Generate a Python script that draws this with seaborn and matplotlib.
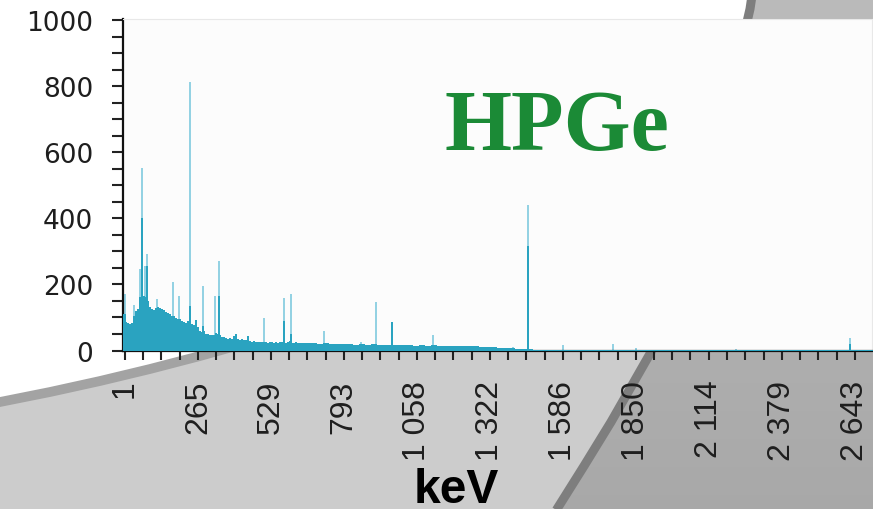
import numpy as np
import pandas as pd
import matplotlib
matplotlib.use("Agg")
import matplotlib.pyplot as plt
from matplotlib.patches import Polygon
from matplotlib.colors import LinearSegmentedColormap
import seaborn as sns

# ---------------------------------------------------------------------------
# Gamma spectrum (HPGe detector), counts per channel group
# ---------------------------------------------------------------------------
# Continuum, fine groups of 7.24 keV starting at -6.24 keV
continuum_low = [
    110, 86, 82, 80, 84, 104, 120, 125, 161, 162,
    165, 160, 150, 132, 125, 122, 128, 131, 130, 126,
    124, 118, 114, 112, 106, 104, 99, 96, 94, 90,
    86, 82, 88, 90, 80, 76, 92, 70, 58, 56,
    60, 50, 49, 47, 46, 48, 52, 50, 46, 40,
    41, 38, 36, 37, 34, 45, 50, 36, 33, 35,
    32, 33, 44, 30, 27, 28, 26, 27, 25, 26,
    27, 25, 24, 26, 25, 23, 26, 24, 25, 27,
    30, 24, 25, 28, 24, 23, 25, 22,
]
# Continuum, coarse groups of 21.72 keV starting at 630.9 keV
continuum_high = [
    23, 22, 24, 21, 23, 20, 21, 19, 20, 18,
    20, 18, 19, 17, 18, 17, 18, 16, 17, 15,
    16, 15, 16, 14, 15, 14, 15, 13, 14, 13,
    12, 12, 10, 9, 8, 7, 6, 6, 6, 3,
    3, 3, 3, 2, 3, 2, 2, 2, 2, 2,
    2, 2, 2, 2, 2, 2, 2, 2, 2, 1,
    2, 1, 1, 1, 1, 1, 1, 1, 1, 1,
    1, 1, 1, 1, 1, 1, 1, 1, 1, 1,
    1, 1, 1, 1, 1, 1, 1, 1, 1, 1,
    1, 1, 1, 1, 1, 1,
]

# Lines: energy (keV), height of the peak channel, height of the line core
peak_kev = [0, 34, 55, 64, 73, 81, 117, 175, 196, 235,
            283, 327, 341, 504, 577, 602, 721, 855, 908, 966,
            1116, 1406, 1460, 1587, 1768, 1851, 2213, 2625]
peak_top = [171, 137, 246, 554, 255, 291, 155, 207, 165, 814,
            195, 165, 270, 99, 158, 171, 60, 27, 147, 87,
            46, 12, 442, 18, 21, 8, 6, 39]
peak_core = [110, 0, 161, 403, 161, 255, 0, 0, 0, 134,
             74, 0, 165, 0, 90, 50, 0, 0, 0, 87,
             0, 0, 316, 0, 0, 0, 0, 21]

x_tick_values = [1, 265, 529, 793, 1058, 1322, 1586, 1850, 2114, 2379, 2643]
x_tick_labels = ["1", "265", "529", "793", "1 058", "1 322",
                 "1 586", "1 850", "2 114", "2 379", "2 643"]
y_tick_values = [0, 200, 400, 600, 800, 1000]

TEAL = "#2aa3c0"
TEAL_LIGHT = "#94d2e3"

# ---------------------------------------------------------------------------
sns.set_style("ticks")
plt.rcParams["font.family"] = ["DejaVu Sans"]

W, H = 873, 510
fig = plt.figure(figsize=(W / 100, H / 100), dpi=100)
fig.patch.set_facecolor("white")

# Decorative background swooshes (pixel coordinates)
bg = fig.add_axes([0, 0, 1, 1], zorder=-10)
bg.set_xlim(0, W)
bg.set_ylim(H, 0)
bg.axis("off")

left_curve = [(-5, 404), (0, 403), (50, 393), (100, 382), (150, 370), (200, 357),
              (250, 343), (300, 328), (400, 296), (600, 230), (880, 140)]
bg.add_patch(Polygon(left_curve + [(880, 525), (-5, 525)], closed=True,
                     facecolor="#cccccc", edgecolor="none", zorder=1))
lx, ly = zip(*left_curve)
bg.plot(lx, ly, color="#a3a3a3", lw=7, solid_capstyle="butt", zorder=2)

right_curve = [(548, 525), (557, 510), (584, 467), (611, 423), (631, 388),
               (651, 353), (690, 245), (720, 140), (750, 10), (753, -10)]
right_poly = Polygon(right_curve + [(885, -10), (885, 525)], closed=True,
                     facecolor="none", edgecolor="none")
bg.add_patch(right_poly)
grad = np.linspace(0, 1, 256).reshape(-1, 1)
cmap = LinearSegmentedColormap.from_list("bgfade", ["#bbbbbb", "#a8a8a8"])
im = bg.imshow(grad, cmap=cmap, extent=[540, 885, 525, -10], aspect="auto",
               zorder=3, interpolation="bilinear")
im.set_clip_path(right_poly)
rx, ry = zip(*right_curve)
bg.plot(rx, ry, color="#7e7e7e", lw=6.5, solid_capstyle="butt", zorder=4)
bg.set_xlim(0, W)
bg.set_ylim(H, 0)

# Main spectrum axes
ax = fig.add_axes([123 / W, 1 - 351.5 / H, 749 / W, 331.5 / H])
ax.set_facecolor("#fcfcfc")

low_w = 7.24
high_w = 21.72
low_edges = -6.24 + low_w * np.arange(len(continuum_low) + 1)
high_edges = low_edges[-1] + high_w * np.arange(len(continuum_high) + 1)
edges = np.concatenate([low_edges, high_edges[1:]])
continuum = pd.DataFrame({
    "kev": 0.5 * (edges[:-1] + edges[1:]),
    "counts": np.array(continuum_low + continuum_high, dtype=float),
})

lines = pd.DataFrame({"kev": peak_kev, "top": peak_top, "core": peak_core})
pw = 7.5
pk = lines["kev"].to_numpy(dtype=float)
pk_edges = np.sort(np.concatenate([pk - pw / 2, pk + pw / 2])).tolist()

# Light tips of the lines
sns.histplot(data=lines, x="kev", weights="top", bins=pk_edges, element="bars",
             fill=True, color=TEAL_LIGHT, alpha=1, linewidth=0, ax=ax, zorder=2)
# Continuum
sns.histplot(data=continuum, x="kev", weights="counts", bins=edges.tolist(),
             element="step", fill=True, color=TEAL, alpha=1, linewidth=0,
             ax=ax, zorder=3)
# Dense cores of the lines
sns.histplot(data=lines, x="kev", weights="core", bins=pk_edges, element="bars",
             fill=True, color=TEAL, alpha=1, linewidth=0, ax=ax, zorder=4)

ax.set_xlim(-6.24, 2705)
ax.set_ylim(0, 1004.5)
ax.set_ylabel("")

ax.set_xticks(x_tick_values)
ax.set_xticklabels(x_tick_labels, rotation=90,
                   fontfamily=["Liberation Sans", "DejaVu Sans"], fontsize=23,
                   color="#1e1e1e")
minor_x = []
for a, b in zip(x_tick_values[:-1], x_tick_values[1:]):
    minor_x.extend(np.linspace(a, b, 5)[1:4])
ax.set_xticks(minor_x, minor=True)

ax.set_yticks(y_tick_values)
ax.set_yticklabels([str(v) for v in y_tick_values], fontsize=19,
                   fontfamily=["DejaVu Sans"], color="#1e1e1e")
ax.set_yticks(np.arange(0, 1001, 50), minor=True)

ax.tick_params(axis="x", which="both", length=6.5, width=1.5, color="#222222",
               pad=14.5, direction="out")
ax.tick_params(axis="y", which="both", length=8, width=1.5, color="#222222",
               pad=13.5, direction="out")

for side in ("left", "bottom"):
    ax.spines[side].set_color("#111111")
    ax.spines[side].set_linewidth(1.6)
for side in ("top", "right"):
    ax.spines[side].set_color("#e8e8e8")
    ax.spines[side].set_linewidth(0.8)

ax.set_xlabel("keV", fontfamily=["Liberation Sans", "DejaVu Sans"],
              fontweight="bold", fontsize=34.5, color="black")
ax.xaxis.label.set_va("baseline")
ax.xaxis.set_label_coords((456 - 123) / 749, -(503 - 351.5) / 331.5)

ax.text((557 - 123) / 749, (351.5 - 150) / 331.5, "HPGe", transform=ax.transAxes,
        ha="center", va="baseline", fontfamily=["Liberation Serif", "DejaVu Serif"],
        fontweight="bold", fontsize=62, color="#1b8a36", zorder=10)

fig.savefig("out.png", dpi=100, facecolor="white")
